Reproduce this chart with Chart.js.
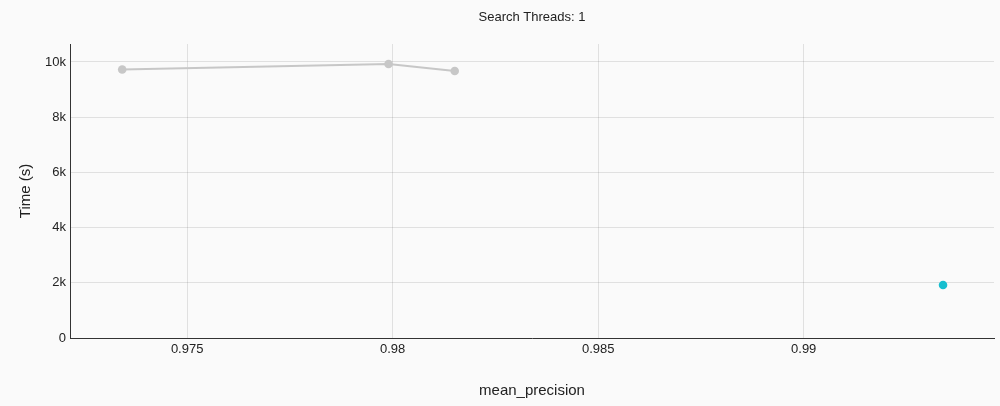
<!DOCTYPE html>
<html><head><meta charset="utf-8">
<script src="https://cdn.jsdelivr.net/npm/chart.js@4"></script>
<style>html,body{margin:0;padding:0;background:#fafafa}#wrap{width:1000px;height:406px}</style>
</head><body><div id="wrap"><canvas id="c" width="1000" height="406"></canvas></div>
<script>
const grayX = [0.97342, 0.97990, 0.98151];
const grayY = [9728, 9928, 9674];
const cyanX = [0.99339];
const cyanY = [1920];
const xTicks = [0.975, 0.98, 0.985, 0.99];
const yTicks = [0, 2000, 4000, 6000, 8000, 10000];
const xRange = [0.97215, 0.99463];
const yRange = [0, 10650];
const chartTitle = 'Search Threads: 1';

const pts = (xs, ys) => xs.map((x, i) => ({x, y: ys[i]}));
const font = {family: "'Liberation Sans', Arial, sans-serif"};

new Chart(document.getElementById('c'), {
  type: 'scatter',
  data: {datasets: [
    {data: pts(grayX, grayY), showLine: true, borderColor: '#c7c7c7', backgroundColor: '#c7c7c7', borderWidth: 2, pointRadius: 4.3, pointBorderWidth: 0, pointHoverRadius: 4.3, xAxisID: 'x', yAxisID: 'y'},
    {data: pts(cyanX, cyanY), borderColor: '#17becf', backgroundColor: '#17becf', pointRadius: 4.3, pointBorderWidth: 0, xAxisID: 'x', yAxisID: 'y'}
  ]},
  options: {
    responsive: false, animation: false,
    layout: {padding: {left: 0, right: 6, top: 0, bottom: 0}},
    plugins: {legend: {display: false}, tooltip: {enabled: false}, title: {display: false}},
    scales: {
      x: {
        type: 'linear', position: 'bottom', min: xRange[0], max: xRange[1],
        afterBuildTicks: s => { s.ticks = xTicks.map(v => ({value: v})); },
        afterFit: s => { s.height = 68; },
        grid: {color: 'rgba(0,0,0,0.1)', drawTicks: false},
        border: {color: '#333', width: 1},
        ticks: {color: '#222', font: {...font, size: 13}, padding: 4, callback: v => String(v)},
        title: {display: true, text: 'mean_precision', color: '#222', font: {...font, size: 15}, padding: {top: 0, bottom: 6}}
      },
      top: {
        type: 'linear', position: 'top', min: xRange[0], max: xRange[1],
        afterFit: s => { s.height = 44; },
        grid: {display: false, drawTicks: false},
        border: {display: false},
        ticks: {display: false},
        title: {display: true, text: chartTitle, color: '#222', font: {...font, size: 13}, padding: {top: 10, bottom: 0}}
      },
      y: {
        min: yRange[0], max: yRange[1],
        afterBuildTicks: s => { s.ticks = yTicks.map(v => ({value: v})); },
        afterFit: s => { s.width = 70; },
        grid: {color: 'rgba(0,0,0,0.1)', drawTicks: false},
        border: {color: '#333', width: 1},
        ticks: {color: '#222', font: {...font, size: 13}, padding: 4, callback: v => v === 0 ? '0' : (v / 1000) + 'k'},
        title: {display: true, text: 'Time (s)', color: '#222', font: {...font, size: 15}, padding: {top: 17, bottom: 0}}
      }
    }
  }
});
</script></body></html>
